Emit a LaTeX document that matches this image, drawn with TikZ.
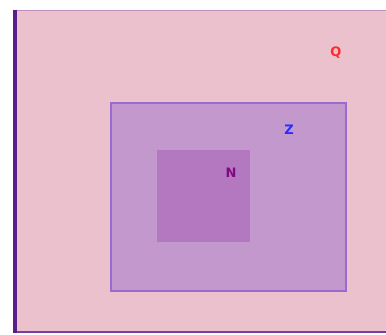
\documentclass[tikz,border=0pt]{standalone}
\usepackage{fontspec}
\setmainfont{DejaVu Sans}
\definecolor{outerfill}{HTML}{EBC1CD}
\definecolor{midfill}{HTML}{C398CC}
\definecolor{midline}{HTML}{9A6AD0}
\definecolor{innerfill}{HTML}{B378BF}
\definecolor{leftline}{HTML}{5A1E8C}
\definecolor{topline}{HTML}{C090C0}
\definecolor{botline}{HTML}{7A3AA8}
\definecolor{qcol}{HTML}{FF2A2A}
\definecolor{zcol}{HTML}{2A2AFF}
\definecolor{ncol}{HTML}{800A80}
\tikzset{lab/.style={font=\bfseries\fontsize{13}{13}\selectfont, inner sep=0pt}}
\begin{document}
\begin{tikzpicture}[x=1pt,y=-1pt]
\useasboundingbox (0,0) rectangle (386,335);
\fill[white] (0,0) rectangle (386,335);
\fill[outerfill] (14,10) rectangle (390,332);
\draw[topline, line width=1.2pt] (14,10.5) -- (390,10.5);
\draw[botline, line width=2pt] (14,331.5) -- (390,331.5);
\draw[leftline, line width=4pt] (14.5,9.5) -- (14.5,333);
\node[draw=midline, fill=midfill, line width=2pt, minimum width=235pt, minimum height=188pt, anchor=north west, inner sep=0pt] (Zbox) at (109.5,101.5) {};
\node[fill=innerfill, minimum width=93pt, minimum height=92pt, anchor=north west, inner sep=0pt] (Nbox) at (157,150) {};
\node[lab, text=qcol] (Q) at (336,53) {Q};
\node[lab, text=zcol] (Z) at (289,130) {Z};
\node[lab, text=ncol] (N) at (231,173) {N};
\end{tikzpicture}
\end{document}
